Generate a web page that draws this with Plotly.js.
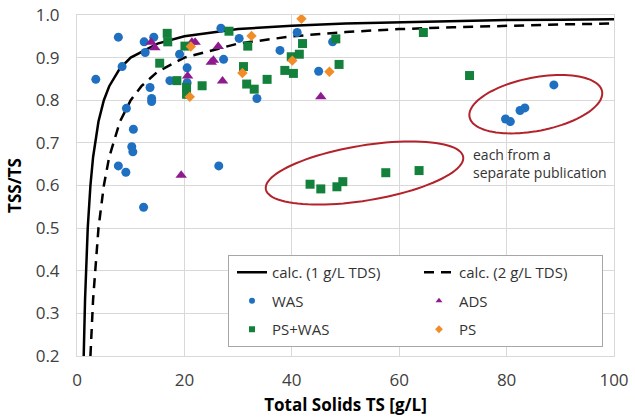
<!DOCTYPE html>
<html>
<head>
<meta charset="utf-8">
<script src="https://cdn.plot.ly/plotly-3.0.1.min.js"></script>
<style>html,body{margin:0;padding:0;background:#fff}#chart{width:635px;height:417px}</style>
</head>
<body>
<div id="chart"></div>
<script>
// calculated curves TSS/TS = 1 - TDS/TS
var tsCalc1 = [1.25, 1.5, 2, 2.5, 3, 4, 5, 6, 8, 10, 15, 20, 30, 40, 50, 60, 70, 80, 90, 100];
var tssCalc1 = [0.2, 0.333, 0.5, 0.6, 0.667, 0.75, 0.8, 0.833, 0.875, 0.9, 0.933, 0.95, 0.967, 0.975, 0.98, 0.983, 0.986, 0.988, 0.989, 0.99];
var tsCalc2 = [2.5, 3, 4, 5, 6, 8, 10, 12, 15, 20, 30, 40, 50, 60, 70, 80, 90, 100];
var tssCalc2 = [0.2, 0.333, 0.5, 0.6, 0.667, 0.75, 0.8, 0.833, 0.867, 0.9, 0.933, 0.95, 0.96, 0.967, 0.971, 0.975, 0.978, 0.98];

var wasTS  = [3.5, 7.7, 12.5, 14.3, 12.7, 8.4, 13.6, 13.9, 13.9, 9.2, 10.5, 10.2, 10.4, 7.7, 9.1, 12.4, 26.4, 26.8, 19.1, 20.5, 20.5, 17.3, 30.2, 27.3, 33.5, 37.8, 41.0, 47.6, 45.0, 79.8, 80.7, 82.5, 83.4, 88.8];
var wasTSS = [0.849, 0.948, 0.937, 0.948, 0.912, 0.879, 0.830, 0.804, 0.797, 0.781, 0.732, 0.691, 0.679, 0.646, 0.631, 0.549, 0.646, 0.969, 0.908, 0.876, 0.841, 0.846, 0.945, 0.896, 0.804, 0.917, 0.959, 0.937, 0.868, 0.756, 0.750, 0.776, 0.782, 0.836];

var adsTS  = [13.8, 14.5, 21.4, 22.0, 26.3, 25.0, 25.4, 20.6, 27.1, 19.4, 45.4];
var adsTSS = [0.936, 0.923, 0.936, 0.936, 0.926, 0.889, 0.894, 0.857, 0.845, 0.624, 0.808];

var pswasTS  = [16.8, 16.9, 15.4, 18.6, 20.4, 20.4, 20.1, 23.3, 28.3, 31.8, 31.0, 31.6, 33.0, 35.4, 42.0, 48.2, 39.9, 41.4, 38.7, 40.3, 48.8, 64.5, 73.1, 43.4, 45.4, 48.4, 49.5, 57.5, 63.7];
var pswasTSS = [0.957, 0.937, 0.887, 0.846, 0.830, 0.814, 0.927, 0.834, 0.962, 0.927, 0.879, 0.838, 0.826, 0.849, 0.933, 0.944, 0.902, 0.908, 0.870, 0.863, 0.884, 0.959, 0.858, 0.603, 0.592, 0.597, 0.609, 0.630, 0.635];

var psTS  = [32.5, 21.2, 30.8, 21.0, 41.8, 40.1, 47.0];
var psTSS = [0.951, 0.926, 0.864, 0.808, 0.991, 0.893, 0.867];

var xTicks = [0, 20, 40, 60, 80, 100];
var yTicks = [0.2, 0.3, 0.4, 0.5, 0.6, 0.7, 0.8, 0.9, 1.0];

var cBlue = '#1f70c1', cPurple = '#8e1b8e', cGreen = '#13803b', cOrange = '#f28c28';

var W = 635, H = 417, mL = 77, mR = 21, mT = 15, mB = 61;
var pw = W - mL - mR, ph = H - mT - mB;

function ellipsePath(cx, cy, a, b, deg) {
  var th = deg * Math.PI / 180, s = '';
  for (var i = 0; i <= 96; i++) {
    var t = 2 * Math.PI * i / 96;
    var X = cx + a * Math.cos(t) * Math.cos(th) + b * Math.sin(t) * Math.sin(th);
    var Y = cy - a * Math.cos(t) * Math.sin(th) + b * Math.sin(t) * Math.cos(th);
    var px = (X - mL) / pw, py = (mT + ph - Y) / ph;
    s += (i === 0 ? 'M' : 'L') + px.toFixed(4) + ',' + py.toFixed(4);
  }
  return s + 'Z';
}

var traces = [
  {x: tsCalc1, y: tssCalc1, mode: 'lines', name: 'calc. (1 g/L TDS)', legendgroup: 'a',
   line: {color: '#000', width: 2.5}},
  {x: tsCalc2, y: tssCalc2, mode: 'lines', name: 'calc. (2 g/L TDS)', legendgroup: 'b',
   line: {color: '#000', width: 2.5, dash: '10px,7px'}},
  {x: wasTS, y: wasTSS, mode: 'markers', name: 'WAS', legendgroup: 'c', showlegend: false,
   marker: {color: cBlue, size: 9, symbol: 'circle'}},
  {x: adsTS, y: adsTSS, mode: 'markers', name: 'ADS', legendgroup: 'd', showlegend: false,
   marker: {color: cPurple, size: 10, symbol: 'triangle-up'}},
  {x: pswasTS, y: pswasTSS, mode: 'markers', name: 'PS+WAS', legendgroup: 'e', showlegend: false,
   marker: {color: cGreen, size: 9, symbol: 'square'}},
  {x: psTS, y: psTSS, mode: 'markers', name: 'PS', legendgroup: 'f', showlegend: false,
   marker: {color: cOrange, size: 8, symbol: 'diamond'}},
  // legend entries with small symbols
  {x: [null], y: [null], mode: 'markers', name: 'WAS', legendgroup: 'c', marker: {color: cBlue, size: 6, symbol: 'circle'}},
  {x: [null], y: [null], mode: 'markers', name: 'ADS', legendgroup: 'd', marker: {color: cPurple, size: 6, symbol: 'triangle-up'}},
  {x: [null], y: [null], mode: 'markers', name: 'PS+WAS', legendgroup: 'e', marker: {color: cGreen, size: 6, symbol: 'square'}},
  {x: [null], y: [null], mode: 'markers', name: 'PS', legendgroup: 'f', marker: {color: cOrange, size: 6, symbol: 'diamond'}}
];

var font = 'Open Sans, Noto Sans, sans-serif';
var layout = {
  width: W, height: H,
  margin: {l: mL, r: mR, t: mT, b: mB, pad: 0},
  paper_bgcolor: '#fff', plot_bgcolor: '#fff',
  font: {family: font, size: 17, color: '#404040'},
  showlegend: true,
  xaxis: {
    range: [0, 100], tickvals: xTicks, ticktext: xTicks.map(String),
    showgrid: true, gridcolor: '#d9d9d9', gridwidth: 1, zeroline: false,
    showline: true, linecolor: '#d9d9d9', mirror: true, ticks: '',
    ticklabelstandoff: 9,
    tickfont: {size: 17, color: '#404040'},
    title: {text: 'Total Solids TS [g/L]', font: {size: 17, color: '#000', family: font, weight: 'bold'}, standoff: 8},
    automargin: false
  },
  yaxis: {
    range: [0.2, 1.0], tickvals: yTicks, ticktext: yTicks.map(function(v){return v.toFixed(1);}),
    showgrid: true, gridcolor: '#d9d9d9', gridwidth: 1, zeroline: false,
    showline: true, linecolor: '#d9d9d9', mirror: true, ticks: '',
    ticklabelstandoff: 13,
    tickfont: {size: 17, color: '#404040'},
    title: {text: 'TSS/TS', font: {size: 17, color: '#000', family: font, weight: 'bold'}, standoff: 9},
    automargin: false
  },
  legend: {
    x: (228 - mL) / pw, y: (mT + ph - 255) / ph, xanchor: 'left', yanchor: 'top',
    orientation: 'h', entrywidth: 138, entrywidthmode: 'pixels', indentation: 4,
    tracegroupgap: 6,
    bgcolor: '#fff', bordercolor: '#a6a6a6', borderwidth: 1,
    font: {size: 15, color: '#333', family: font},
    traceorder: 'grouped'
  },
  shapes: [
    {type: 'path', xref: 'paper', yref: 'paper', path: ellipsePath(364.5, 173, 100, 27.5, 9.3),
     line: {color: '#b3232b', width: 2}, fillcolor: 'rgba(0,0,0,0)'},
    {type: 'path', xref: 'paper', yref: 'paper', path: ellipsePath(535.8, 104.2, 67.5, 26.7, 11),
     line: {color: '#b3232b', width: 2}, fillcolor: 'rgba(0,0,0,0)'}
  ],
  annotations: [
    {xref: 'paper', yref: 'paper', x: (471 - mL) / pw, y: (mT + ph - 164) / ph, xanchor: 'left', yanchor: 'middle',
     text: 'each from a<br>separate publication', align: 'left', showarrow: false,
     font: {size: 14, color: '#333', family: font}}
  ]
};

Plotly.newPlot('chart', traces, layout, {displayModeBar: false, staticPlot: true});
</script>
</body>
</html>
